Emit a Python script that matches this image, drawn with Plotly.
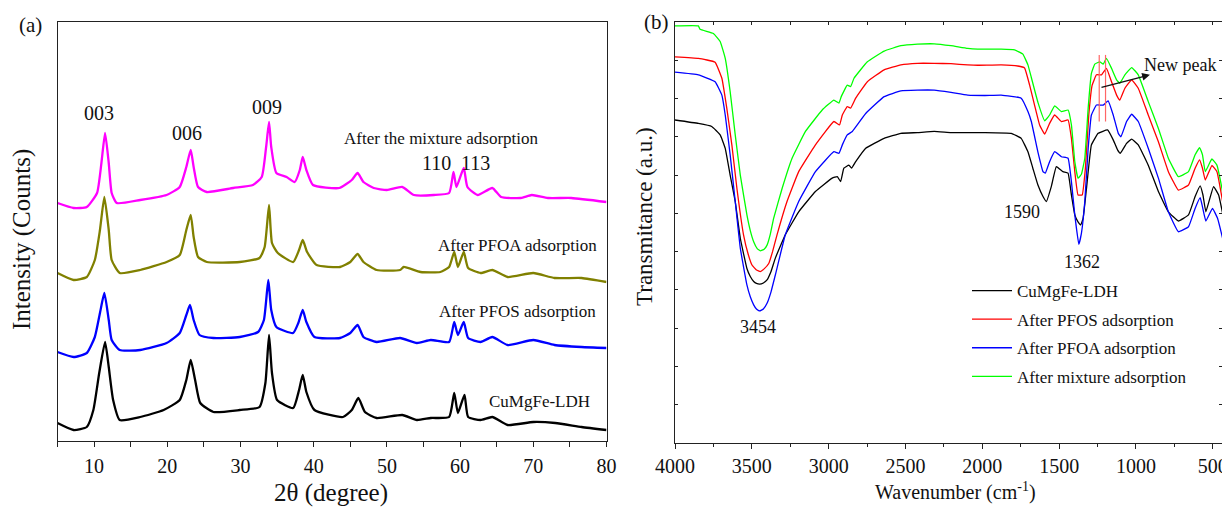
import plotly.graph_objects as go

FONT = "Liberation Serif, Times New Roman, serif"
OFF = 8                      # default page body margin of the html page
W, H = 1230 - OFF, 508 - OFF # figure size so that it fills the 1230x508 window


def px(x):
    return (x - OFF) / W


def py(y):
    return 1 - (y - OFF) / H


# ---------------- Panel (a): XRD patterns (arbitrary intensity units) ----------------
xrd_mix_2t = [5, 7.2, 9.0, 10.4, 11.0, 11.5, 12.0, 12.4, 13.1, 16.3, 19.9, 21.7, 22.6, 23.2, 23.6, 24.2, 25.4,
              29.0, 31.7, 32.9, 33.5, 33.9, 34.2, 34.9, 36.3, 37.4, 38.1, 38.5, 39.0, 39.9, 43.5, 45.2, 46.0,
              46.8, 48.2, 50.0, 52.1, 53.7, 56.4, 58.5, 59.1, 59.5, 60.5, 61.0, 62.4, 64.4, 65.6, 68.3, 69.8,
              72.0, 75.2, 80.0]
xrd_mix_int = [238, 233, 234, 248, 278, 308, 278, 248, 238, 241, 246, 254, 274, 291, 274, 254, 249,
               253, 256, 264, 294, 319, 294, 268, 264, 259, 271, 284, 271, 256, 253, 261, 268,
               259, 253, 251, 254, 246, 246, 248, 269, 254, 273, 254, 246, 253, 244, 243, 246,
               243, 243, 239]

xrd_pfoa_2t = [5, 7.2, 9.0, 10.1, 10.8, 11.4, 12.0, 12.4, 13.5, 16.3, 19.9, 21.7, 22.6, 23.2, 23.6, 24.2, 25.4,
               29.9, 32.6, 33.3, 33.9, 34.3, 35.1, 37.2, 38.0, 38.5, 39.1, 40.4, 43.6, 45.0, 46.0, 46.8,
               48.6, 51.8, 52.3, 54.6, 57.3, 58.5, 59.2, 59.7, 60.5, 61.1, 62.8, 64.4, 66.5, 70.0, 72.9,
               76.6, 80.0]
xrd_pfoa_int = [168, 161, 164, 181, 211, 244, 211, 181, 168, 171, 179, 186, 211, 226, 204, 184, 179,
                179, 183, 194, 236, 198, 188, 179, 191, 201, 189, 176, 174, 179, 187, 179,
                171, 171, 174, 169, 169, 174, 189, 174, 189, 173, 168, 171, 164, 168, 163,
                163, 159]

xrd_pfos_2t = [5, 7.2, 9.0, 10.1, 10.8, 11.4, 12.0, 12.4, 13.5, 16.3, 19.9, 21.7, 22.6, 23.1, 23.6, 24.4, 26.3,
               29.9, 32.4, 33.2, 33.8, 34.2, 34.9, 37.2, 37.9, 38.5, 39.0, 40.1, 43.6, 45.0, 46.0, 46.8,
               48.6, 51.8, 54.1, 56.0, 58.5, 59.2, 59.7, 60.5, 61.1, 62.8, 64.4, 66.5, 70.0, 72.9,
               76.6, 80.0]
xrd_pfos_int = [89, 84, 88, 104, 128, 148, 121, 101, 91, 91, 98, 108, 126, 136, 121, 106, 103,
                104, 109, 121, 161, 131, 114, 108, 118, 131, 119, 104, 103, 108, 116, 104,
                99, 103, 98, 101, 99, 119, 106, 119, 103, 99, 104, 96, 101, 96,
                94, 93]

xrd_ldh_2t = [5, 7.2, 9.0, 9.9, 10.7, 11.5, 12.0, 12.6, 13.5, 16.3, 19.5, 21.7, 22.6, 23.2, 23.8, 24.5, 26.3,
              29.9, 32.6, 33.4, 33.9, 34.3, 35.0, 37.2, 38.0, 38.5, 39.0, 40.1, 44.0, 45.2, 46.1, 47.0,
              48.6, 52.1, 54.1, 56.0, 58.5, 59.2, 59.7, 60.6, 61.1, 62.8, 64.4, 66.5, 70.0, 73.0,
              76.6, 80.0]
xrd_ldh_int = [18, 11, 14, 31, 68, 99, 74, 41, 21, 24, 31, 41, 61, 81, 61, 38, 29,
               31, 34, 58, 106, 68, 41, 33, 51, 66, 49, 31, 24, 31, 43, 29,
               23, 26, 21, 23, 24, 48, 28, 46, 24, 21, 24, 16, 19, 18,
               14, 11]

# ---------------- Panel (b): FTIR spectra (transmittance, a.u.) ----------------
ir_ldh_w = [4000, 3848, 3761, 3706, 3673, 3641, 3608, 3575, 3532, 3510, 3488, 3470, 3449, 3425, 3401, 3375,
            3347, 3282, 3195, 3086,
            2977, 2944, 2922, 2901, 2868, 2851, 2824, 2759, 2639, 2530, 2422, 2313, 2204, 2095, 1986, 1812,
            1747, 1703, 1671, 1638, 1605, 1583, 1551, 1518, 1475, 1442, 1420, 1398, 1377, 1359, 1344, 1322,
            1290, 1246, 1185, 1148, 1120, 1102, 1061, 1028, 985, 920, 854, 789, 724, 658, 615, 582, 564,
            545, 495, 462, 425]
ir_ldh_t = [8.44, 8.35, 8.27, 8.05, 7.70, 7.00, 6.31, 5.35, 4.56, 4.35, 4.22, 4.17, 4.15, 4.18, 4.26, 4.48,
            4.83, 5.44, 6.04, 6.57,
            6.92, 6.96, 6.83, 7.18, 7.26, 7.18, 7.35, 7.70, 7.96, 8.09, 8.11, 8.14, 8.11, 8.11, 8.11, 8.09,
            7.96, 7.61, 7.18, 6.74, 6.44, 6.31, 6.70, 7.22, 7.09, 7.05, 6.48, 5.96, 5.78, 5.70, 5.87, 6.65,
            7.79, 8.09, 8.18, 7.92, 7.66, 7.57, 7.83, 7.94, 7.79, 7.26, 6.57, 6.04, 5.80, 5.96, 6.44, 6.72, 6.48,
            6.04, 6.70, 6.48, 5.78]

ir_pfos_w = [4000, 3848, 3739, 3695, 3663, 3630, 3597, 3554, 3525, 3499, 3470, 3445, 3420, 3390, 3365, 3336,
             3271, 3195, 3086,
             2966, 2929, 2911, 2879, 2857, 2824, 2748, 2639, 2530, 2422, 2313, 2204, 2095, 2030, 1877, 1769,
             1725, 1692, 1660, 1627, 1594, 1562, 1529, 1485, 1442, 1420, 1398, 1377, 1350, 1329, 1307, 1285,
             1257, 1224, 1192, 1159, 1126, 1105, 1072, 1028, 985, 920, 854, 789, 724, 658, 615, 586, 567,
             549, 506, 473, 430]
ir_pfos_t = [10.09, 10.05, 9.95, 9.53, 8.75, 7.79, 6.65, 5.44, 4.95, 4.65, 4.52, 4.48, 4.55, 4.69, 5.00, 5.44,
             6.31, 7.09, 7.79,
             8.40, 8.31, 8.57, 8.79, 8.75, 9.01, 9.44, 9.75, 9.88, 9.92, 9.92, 9.91, 9.88, 9.87, 9.88, 9.85,
             9.80, 9.35, 8.83, 8.31, 8.07, 8.35, 8.57, 8.40, 8.44, 7.96, 7.09, 6.48, 6.48, 7.18, 8.57, 9.35,
             9.62, 9.62, 9.79, 9.44, 9.09, 8.96, 9.27, 9.49, 9.27, 8.57, 7.87, 7.09, 6.61, 6.74, 7.18, 7.40, 7.18,
             6.87, 7.25, 7.09, 6.17]

ir_pfoa_w = [4000, 3848, 3739, 3695, 3673, 3641, 3608, 3575, 3532, 3510, 3488, 3470, 3449, 3425, 3401, 3375,
             3347, 3282, 3195, 3086,
             2966, 2933, 2911, 2879, 2846, 2759, 2639, 2530, 2422, 2313, 2204, 2095, 1986, 1877, 1747, 1703,
             1681, 1638, 1605, 1590, 1562, 1529, 1485, 1442, 1420, 1398, 1372, 1355, 1333, 1311, 1290, 1257,
             1213, 1181, 1148, 1115, 1098, 1061, 1028, 985, 920, 854, 789, 724, 658, 615, 582, 567, 545,
             502, 469, 425]
ir_pfoa_t = [9.69, 9.62, 9.44, 9.09, 8.57, 7.53, 6.31, 5.09, 4.13, 3.82, 3.61, 3.50, 3.45, 3.50, 3.65, 3.95,
             4.39, 5.44, 6.31, 7.09,
             7.61, 7.57, 7.79, 8.05, 8.14, 8.61, 9.05, 9.20, 9.22, 9.22, 9.16, 9.09, 9.08, 9.09, 9.01, 8.66,
             8.40, 7.60, 7.09, 7.05, 7.35, 7.61, 7.48, 7.44, 6.83, 5.96, 5.19, 5.48, 6.31, 7.70, 8.57, 8.83,
             8.83, 8.94, 8.57, 8.09, 8.00, 8.40, 8.59, 8.40, 7.70, 6.92, 6.04, 5.52, 5.65, 6.13, 6.41, 6.17, 5.80,
             6.13, 5.87, 5.17]

ir_mix_w = [4000, 3848, 3837, 3750, 3706, 3673, 3641, 3608, 3575, 3532, 3510, 3488, 3465, 3445, 3420, 3401,
            3380, 3358, 3303, 3238,
            3151, 3042, 2966, 2933, 2918, 2879, 2857, 2835, 2748, 2639, 2530, 2422, 2313, 2204, 2095, 2030,
            1877, 1790, 1736, 1703, 1681, 1638, 1594, 1562, 1529, 1485, 1442, 1420, 1398, 1377, 1355, 1333,
            1311, 1290, 1268, 1235, 1213, 1192, 1159, 1126, 1105, 1072, 1028, 985, 920, 854, 789, 724, 658,
            615, 586, 567, 549, 506, 473, 430]
ir_mix_t = [10.90, 10.90, 10.81, 10.70, 10.49, 10.05, 9.18, 8.05, 7.00, 5.96, 5.55, 5.26, 5.08, 5.02, 5.06, 5.17,
            5.45, 5.87, 6.65, 7.44,
            8.14, 8.70, 8.96, 8.88, 9.05, 9.35, 9.31, 9.53, 9.96, 10.24, 10.38, 10.42, 10.43, 10.38, 10.31, 10.29,
            10.29, 10.27, 10.16, 9.88, 9.55, 8.90, 8.42, 8.57, 8.81, 8.66, 8.70, 8.31, 7.35, 6.92, 7.02, 7.44,
            8.75, 9.66, 9.90, 9.96, 9.90, 10.05, 9.79, 9.49, 9.40, 9.62, 9.81, 9.62, 8.92, 8.22, 7.44, 6.96, 7.09,
            7.53, 7.72, 7.53, 7.09, 7.42, 7.26, 6.44]

# "New peak" marker lines (wavenumber, bottom, top)
new_peak_w = [1239, 1198]
new_peak_lo = [8.40, 8.40]
new_peak_hi = [10.14, 10.14]

xrd_series = [
    ("After the mixture adsorption", xrd_mix_2t, xrd_mix_int, "#ff00ff"),
    ("After PFOA adsorption", xrd_pfoa_2t, xrd_pfoa_int, "#808000"),
    ("After PFOS adsorption", xrd_pfos_2t, xrd_pfos_int, "#0000ff"),
    ("CuMgFe-LDH", xrd_ldh_2t, xrd_ldh_int, "#000000"),
]
ir_series = [
    ("CuMgFe-LDH", ir_ldh_w, ir_ldh_t, "#000000"),
    ("After PFOS adsorption", ir_pfos_w, ir_pfos_t, "#ff0000"),
    ("After PFOA adsorption", ir_pfoa_w, ir_pfoa_t, "#0000ff"),
    ("After mixture adsorption", ir_mix_w, ir_mix_t, "#00ff00"),
]

fig = go.Figure()
for name, x, y, c in xrd_series:
    fig.add_trace(go.Scatter(x=x, y=y, mode="lines", name=name, showlegend=False,
                             line=dict(color=c, width=2.3, shape="spline", smoothing=0.5),
                             xaxis="x", yaxis="y"))
for i, (name, x, y, c) in enumerate(ir_series):
    fig.add_trace(go.Scatter(x=x, y=y, mode="lines", name=name, legendgroup=f"g{i}",
                             line=dict(color=c, width=1.3, shape="spline", smoothing=0.3),
                             xaxis="x2", yaxis="y2"))
for w, lo, hi in zip(new_peak_w, new_peak_lo, new_peak_hi):
    fig.add_trace(go.Scatter(x=[w, w], y=[lo, hi], mode="lines", showlegend=False,
                             line=dict(color="#ff6666", width=1.2), xaxis="x2", yaxis="y2"))
# carrier for the top tick axis of panel (b)
fig.add_trace(go.Scatter(x=[None], y=[None], mode="lines", showlegend=False, xaxis="x3", yaxis="y2"))

AX = "#222222"
common = dict(showgrid=False, zeroline=False, showline=True, linecolor=AX, linewidth=1.3,
              automargin=False)

fig.update_layout(
    width=W, height=H,
    margin=dict(l=0, r=0, t=0, b=0),
    paper_bgcolor="white", plot_bgcolor="white",
    font=dict(family=FONT, color="#111111"),
    xaxis=dict(domain=[px(57.5), px(606.5)], range=[5, 80], anchor="y", mirror=True,
               ticks="outside", ticklen=5, tickwidth=1.3, tickcolor=AX, tick0=0, dtick=10,
               minor=dict(dtick=5, ticks="outside", ticklen=5, tickwidth=1.3, tickcolor=AX),
               tickfont=dict(size=20, family=FONT), ticklabelstandoff=2,
               **common),
    yaxis=dict(domain=[py(441), py(22)], range=[0, 419], anchor="x", mirror=True,
               showticklabels=False, ticks="", **common),
    xaxis2=dict(domain=[px(675), px(1222)], range=[4000, 440], anchor="y2", mirror=True,
                ticks="outside", ticklen=5, tickwidth=1.3, tickcolor=AX, tick0=0, dtick=500,
                minor=dict(dtick=250, ticks="outside", ticklen=3, tickwidth=1.3, tickcolor=AX),
                tickfont=dict(size=20, family=FONT),
                **common),
    xaxis3=dict(overlaying="x2", anchor="y2", side="top", range=[4000, 440], showline=False,
                showgrid=False, zeroline=False, ticks="inside", ticklen=3, tickwidth=1.3, tickcolor=AX,
                tick0=0, dtick=250, showticklabels=False),
    yaxis2=dict(domain=[py(443), py(22)], range=[0, 11], anchor="x2", mirror="ticks",
                ticks="inside", ticklen=3, tickwidth=1.3, tickcolor=AX, tick0=0, dtick=1,
                showticklabels=False, **common),
    legend=dict(x=px(967), y=py(273), xanchor="left", yanchor="top",
                bgcolor="rgba(0,0,0,0)", font=dict(size=17, family=FONT),
                tracegroupgap=3.5, itemwidth=40),
)

ann = []


def add_text(text, x, y, xref, yref, size, angle=0):
    ann.append(dict(text=text, x=x, y=y, xref=xref, yref=yref, showarrow=False, textangle=angle,
                    font=dict(size=size, family=FONT, color="#111111"), xanchor="center", yanchor="middle"))


# panel labels and axis titles
add_text("(a)", px(30), py(25), "paper", "paper", 21)
add_text("(b)", px(657), py(22), "paper", "paper", 21)
add_text("2θ (degree)", px(331), py(493), "paper", "paper", 25)
add_text("Intensity (Counts)", px(22), py(240), "paper", "paper", 25, -90)
add_text("Wavenumber (cm<sup>-1</sup>)", px(955), py(491), "paper", "paper", 20)
add_text("Transmitance (a.u.)", px(645), py(217), "paper", "paper", 23, -90)
# XRD labels
add_text("003", 10.63, 327.7, "x", "y", 20)
add_text("006", 22.69, 308, "x", "y", 20)
add_text("009", 33.62, 334.3, "x", "y", 20)
add_text("110", 56.8, 277.7, "x", "y", 20)
add_text("113", 62.14, 277.7, "x", "y", 20)
add_text("After the mixture adsorption", 57.49, 302.7, "x", "y", 17)
add_text("After PFOA adsorption", 67.88, 195.3, "x", "y", 17)
add_text("After PFOS adsorption", 67.84, 130, "x", "y", 17)
add_text("CuMgFe-LDH", 70.85, 39.3, "x", "y", 17)
# FTIR labels
add_text("3454", 3460, 3.03, "x2", "y2", 18)
add_text("1590", 1742, 6.04, "x2", "y2", 18)
add_text("1362", 1351, 4.73, "x2", "y2", 18)
add_text("New peak", 713, 9.88, "x2", "y2", 18)
ann.append(dict(x=909, y=9.62, ax=1234, ay=9.28, xref="x2", yref="y2", axref="x2", ayref="y2",
                showarrow=True, arrowhead=2, arrowsize=1.2, arrowwidth=1.3, arrowcolor="#111111", text=""))
fig.update_layout(annotations=ann)

fig.write_html("out.html")
